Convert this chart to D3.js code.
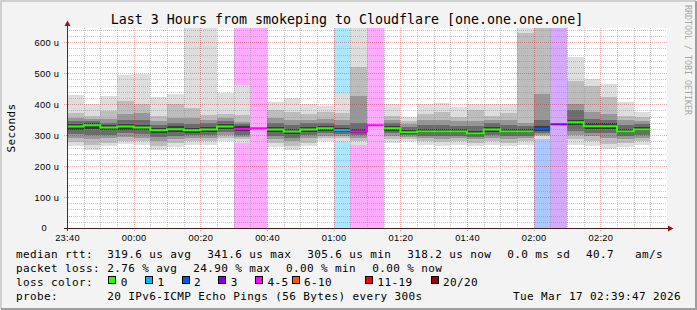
<!DOCTYPE html>
<meta charset="utf-8">
<style>
body { margin: 0; background: #f3f3f3; }
svg { display: block; font-family: "DejaVu Sans Mono", monospace; }
text { white-space: pre; }
.minor { stroke: rgba(140,140,140,0.5); stroke-dasharray: 1,1; shape-rendering: crispEdges; }
.major { stroke: rgba(200,30,30,0.4); stroke-dasharray: 1,1; shape-rendering: crispEdges; }
.axis text { font-size: 9.3px; letter-spacing: 0.3px; fill: #000; }
.legend text { font-size: 11px; letter-spacing: 0.38px; fill: #000; }
</style>
<svg width="697" height="310"></svg>
<script src="https://cdn.jsdelivr.net/npm/d3@7"></script>
<script>
var width = 697, height = 310;
var plotL = 67, plotR = 667, plotT = 28, plotB = 228;

// 5 minute steps, start of each step
var times = ["23:40","23:45","23:50","23:55","00:00","00:05","00:10","00:15","00:20","00:25",
             "00:30","00:35","00:40","00:45","00:50","00:55","01:00","01:05","01:10","01:15",
             "01:20","01:25","01:30","01:35","01:40","01:45","01:50","01:55","02:00","02:05",
             "02:10","02:15","02:20","02:25","02:30"];

// median rtt, microseconds
var median = [328, 332, 325, 328, 325, 316, 319, 316, 318, 328,
              320, 322, 318, 312, 318, 322, 316, 312, 332, 322,
              309, 312, 312, 312, 305.6, 318, 312, 312, 321, 335,
              341.6, 329, 329, 312, 318.2];

// lost pings out of 20
var loss = [0, 0, 0, 0, 0, 0, 0, 0, 0, 0,
            5, 5, 0, 0, 0, 0, 1, 4, 5, 0,
            0, 0, 0, 0, 0, 0, 0, 0, 2, 3,
            0, 0, 0, 0, 0];

// sorted ping samples (us) per step, outer pair first -> smoke bands
var smoke = [
  [264, 278, 292, 304, 318, 336, 344, 354, 372, 429],
  [253, 268, 286, 302, 320, 338, 346, 352, 361, 402],
  [264, 276, 290, 302, 316, 332, 340, 352, 377, 425],
  [271, 282, 294, 306, 318, 336, 350, 368, 411, 493],
  [269, 280, 292, 304, 316, 334, 350, 372, 399, 498],
  [253, 266, 280, 294, 306, 324, 334, 346, 361, 422],
  [261, 274, 288, 298, 310, 328, 340, 356, 401, 434],
  [269, 280, 290, 300, 308, 324, 336, 354, 389, 980],
  [269, 280, 290, 302, 310, 326, 338, 350, 366, 1050],
  [280, 290, 300, 310, 320, 336, 346, 356, 369, 437],
  [275, 286, 294, 302, 312, 328, 336, 342, 364, 461],
  null,
  [261, 274, 288, 298, 310, 326, 340, 356, 382, 407],
  [253, 266, 280, 292, 304, 320, 332, 348, 375, 420],
  [264, 276, 290, 300, 310, 326, 338, 350, 369, 399],
  [280, 290, 298, 306, 314, 330, 340, 352, 375, 393],
  [280, 290, 298, 304, 310, 324, 334, 348, 370, 433],
  [269, 280, 290, 300, 306, 320, 340, 425, 519, 900],
  null,
  [275, 286, 296, 306, 314, 330, 340, 350, 361, 402],
  [280, 288, 294, 300, 304, 316, 326, 336, 345, 358],
  [269, 280, 290, 298, 306, 320, 332, 348, 369, 399],
  [266, 278, 288, 298, 306, 320, 334, 350, 375, 405],
  [269, 280, 290, 298, 306, 320, 330, 344, 358, 390],
  [266, 276, 286, 294, 300, 314, 330, 345, 382, 401],
  [269, 280, 290, 300, 310, 326, 338, 350, 363, 401],
  [264, 276, 286, 296, 306, 320, 334, 350, 372, 399],
  [269, 280, 290, 298, 306, 320, 330, 340, 630, 1100],
  [288, 296, 302, 308, 314, 330, 350, 434, 800, 1300],
  null,
  [269, 286, 300, 314, 332, 350, 382, 401, 474, 552],
  [266, 282, 296, 308, 320, 338, 352, 374, 458, 482],
  [255, 272, 290, 306, 320, 338, 350, 367, 422, 466],
  [261, 274, 286, 296, 306, 320, 334, 348, 361, 407],
  [269, 280, 292, 302, 312, 326, 336, 345, 360, 374]
];

var lossLabels = ["0", "1", "2", "3", "4-5", "6-10", "11-19", "20/20"];
var lossColors = ["#26ff00", "#00b8ff", "#0059ff", "#7e00ff", "#ff00ff", "#ff5500", "#ff0000", "#a10000"];
var smokeGreys = ["#dddddd", "#bdbdbd", "#979797", "#6c6c6c", "#3a3a3a"];

var statLines = [
  ["median rtt:", "319.6 us avg", "341.6 us max", "305.6 us min", "318.2 us now", "0.0 ms sd", "40.7", "am/s"],
  ["packet loss:", "2.76 % avg", "24.90 % max", "0.00 % min", "0.00 % now"]
];
var statX = [
  [16, 107.3, 207.3, 307.3, 407.3, 507.3, 586, 635],
  [16, 107.3, 193.3, 286, 372.3]
];
var lossBoxX = [108.3, 145, 181.7, 218.3, 255, 291.7, 365, 430.7];
var probeText = "20 IPv6-ICMP Echo Pings (56 Bytes) every 300s";
var stamp = "Tue Mar 17 02:39:47 2026";
var title = "Last 3 Hours from smokeping to Cloudflare [one.one.one.one]";

var parseT = d3.timeParse("%Y-%m-%d %H:%M");
function toDate(s) {
  var day = +s.slice(0, 2) > 12 ? "2026-03-16 " : "2026-03-17 ";
  return parseT(day + s);
}
var steps = times.map(toDate);
var t0 = parseT("2026-03-16 23:40"), t1 = parseT("2026-03-17 02:40");

var x = d3.scaleTime().domain([t0, t1]).range([plotL, plotR]);
var y = d3.scaleLinear().domain([0, 646]).range([plotB, plotT]);
var lossColor = d3.scaleThreshold().domain([1, 2, 3, 4, 6, 11, 20]).range(lossColors);

var svg = d3.select("svg");

// frame
svg.append("rect").attr("width", width).attr("height", height).attr("fill", "#f3f3f3");
svg.append("path").attr("d", "M1,309V1H696").attr("fill", "none").attr("stroke", "#cfcfcf").attr("stroke-width", 2);
svg.append("path").attr("d", "M1,309H696V1").attr("fill", "none").attr("stroke", "#9e9e9e").attr("stroke-width", 2);

svg.append("defs").append("clipPath").attr("id", "plot")
  .append("rect").attr("x", plotL).attr("y", plotT).attr("width", plotR - plotL).attr("height", plotB - plotT);

svg.append("rect").attr("x", plotL).attr("y", plotT).attr("width", plotR - plotL)
  .attr("height", plotB - plotT).attr("fill", "#fff");

var plot = svg.append("g").attr("clip-path", "url(#plot)");

function x0(i) { return x(steps[i]); }
function x1(i) { return x(d3.timeMinute.offset(steps[i], 5)); }

// loss background
plot.selectAll(".lossbg")
  .data(d3.range(steps.length).filter(function(i) { return loss[i] > 0; }))
  .enter().append("rect")
    .attr("class", "lossbg")
    .attr("x", x0)
    .attr("width", function(i) { return x1(i) - x0(i); })
    .attr("y", plotT).attr("height", plotB - plotT)
    .attr("fill", function(i) { return lossColor(loss[i]); })
    .attr("fill-opacity", 0.333)
    .attr("shape-rendering", "crispEdges");

// smoke
var bars = plot.selectAll(".smoke")
  .data(d3.range(steps.length).filter(function(i) { return smoke[i]; }))
  .enter().append("g").attr("class", "smoke");

bars.selectAll("rect")
  .data(function(i) {
    return d3.range(5).map(function(k) { return {i: i, lo: smoke[i][k], hi: smoke[i][9 - k], k: k}; });
  })
  .enter().append("rect")
    .attr("x", function(d) { return x0(d.i); })
    .attr("width", function(d) { return x1(d.i) - x0(d.i); })
    .attr("y", function(d) { return y(d.hi); })
    .attr("height", function(d) { return y(d.lo) - y(d.hi); })
    .attr("fill", function(d) { return smokeGreys[d.k]; })
    .attr("shape-rendering", "crispEdges");

// grid
var minorX = x.ticks(d3.timeMinute.every(5)).filter(function(t) { return t.getMinutes() % 20 && x(t) < plotR - 1; });
var majorX = x.ticks(d3.timeMinute.every(20)).filter(function(t) { return x(t) > plotL && x(t) < plotR - 1; });
var minorY = d3.range(20, 646, 20).filter(function(v) { return v % 100; });
var majorY = d3.range(100, 646, 100);

var grid = svg.append("g");
grid.selectAll(".mx").data(minorX).enter().append("line").attr("class", "minor")
  .attr("x1", function(d) { return Math.round(x(d)) + 0.5; }).attr("x2", function(d) { return Math.round(x(d)) + 0.5; })
  .attr("y1", plotT).attr("y2", plotB);
grid.selectAll(".my").data(minorY).enter().append("line").attr("class", "minor")
  .attr("y1", function(d) { return Math.round(y(d)) + 0.5; }).attr("y2", function(d) { return Math.round(y(d)) + 0.5; })
  .attr("x1", plotL).attr("x2", plotR);
grid.selectAll(".Mx").data(majorX).enter().append("line").attr("class", "major")
  .attr("x1", function(d) { return Math.round(x(d)) + 0.5; }).attr("x2", function(d) { return Math.round(x(d)) + 0.5; })
  .attr("y1", plotT).attr("y2", plotB + 3);
grid.selectAll(".My").data(majorY).enter().append("line").attr("class", "major")
  .attr("y1", function(d) { return Math.round(y(d)) + 0.5; }).attr("y2", function(d) { return Math.round(y(d)) + 0.5; })
  .attr("x1", plotL - 3).attr("x2", plotR);

// median line, one step path per run of same loss colour (drawn over the grid)
var runs = [];
median.forEach(function(m, i) {
  var c = lossColor(loss[i]);
  var last = runs[runs.length - 1];
  if (last && last.c === c && last.end === i - 1) { last.idx.push(i); last.end = i; }
  else runs.push({c: c, idx: [i], end: i});
});
var line = d3.line().curve(d3.curveStepAfter)
  .x(function(p) { return x(p[0]); }).y(function(p) { return y(p[1]); });
svg.append("g").attr("clip-path", "url(#plot)")
  .selectAll(".median").data(runs).enter().append("path")
  .attr("class", "median")
  .attr("fill", "none")
  .attr("stroke", function(r) { return r.c; })
  .attr("stroke-width", 2)
  .attr("d", function(r) {
    var pts = r.idx.map(function(i) { return [steps[i], median[i]]; });
    var li = r.idx[r.idx.length - 1];
    pts.push([d3.timeMinute.offset(steps[li], 5), median[li]]);
    return line(pts);
  });

// axes
var xAxis = svg.append("g").attr("class", "axis").attr("transform", "translate(0," + plotB + ")")
  .call(d3.axisBottom(x).ticks(d3.timeMinute.every(20)).tickFormat(d3.timeFormat("%H:%M"))
    .tickSize(0).tickPadding(6.4));
xAxis.select(".domain").remove();
xAxis.selectAll(".tick").filter(function(d) { return x(d) > plotR - 2; }).remove();

var yAxis = svg.append("g").attr("class", "axis").attr("transform", "translate(" + plotL + ",0)")
  .call(d3.axisLeft(y).tickValues(d3.range(0, 646, 100))
    .tickFormat(function(d) { return d ? d + " u" : "0"; })
    .tickSize(0).tickPadding(7.7));
yAxis.select(".domain").remove();
yAxis.selectAll(".tick text").filter(function(d) { return d === 0; }).attr("x", -20);

svg.append("line").attr("x1", plotL - 3).attr("x2", plotR + 2).attr("y1", plotB + 0.5).attr("y2", plotB + 0.5)
  .attr("stroke", "#3a1c1c");
svg.append("line").attr("x1", plotL + 0.5).attr("x2", plotL + 0.5).attr("y1", plotB + 3).attr("y2", plotT - 4)
  .attr("stroke", "#5a2424");
svg.append("path").attr("d", "M668,225.5L673.5,228.5L668,231.5Z").attr("fill", "#8c1a1a");
svg.append("path").attr("d", "M64.5,26L67.5,20.5L70.5,26Z").attr("fill", "#8c1a1a");

// texts
svg.append("text").attr("x", 347).attr("y", 24).attr("text-anchor", "middle")
  .style("font-size", "13.3px").text(title);

svg.append("text").attr("transform", "translate(15,128) rotate(-90)").attr("text-anchor", "middle")
  .style("font-size", "11px").style("letter-spacing", "0.38px").text("Seconds");

svg.append("text").attr("transform", "translate(685,5) rotate(90)")
  .style("font-size", "8.3px").attr("fill", "#a6a6a6").text("RRDTOOL / TOBI OETIKER");

var legend = svg.append("g").attr("class", "legend");
var lineY = [257.5, 271.5, 285.5, 299.5];

statLines.forEach(function(items, r) {
  legend.selectAll(".s" + r).data(items).enter().append("text")
    .attr("x", function(d, j) { return statX[r][j]; })
    .attr("y", lineY[r])
    .text(function(d) { return d; });
});

legend.append("text").attr("x", 16).attr("y", lineY[2]).text("loss color:");
var items = legend.selectAll(".lc").data(lossLabels).enter().append("g");
items.append("rect")
  .attr("x", function(d, j) { return Math.round(lossBoxX[j]) + 0.5; })
  .attr("y", 276.5).attr("width", 7).attr("height", 7)
  .attr("fill", function(d, j) { return lossColors[j]; })
  .attr("stroke", "#000");
items.append("text")
  .attr("x", function(d, j) { return lossBoxX[j] + 12.4; })
  .attr("y", lineY[2])
  .text(function(d) { return d; });

legend.append("text").attr("x", 16).attr("y", lineY[3]).text("probe:");
legend.append("text").attr("x", 107.3).attr("y", lineY[3]).text(probeText);
legend.append("text").attr("x", 681).attr("y", lineY[3]).attr("text-anchor", "end").text(stamp);
</script>
